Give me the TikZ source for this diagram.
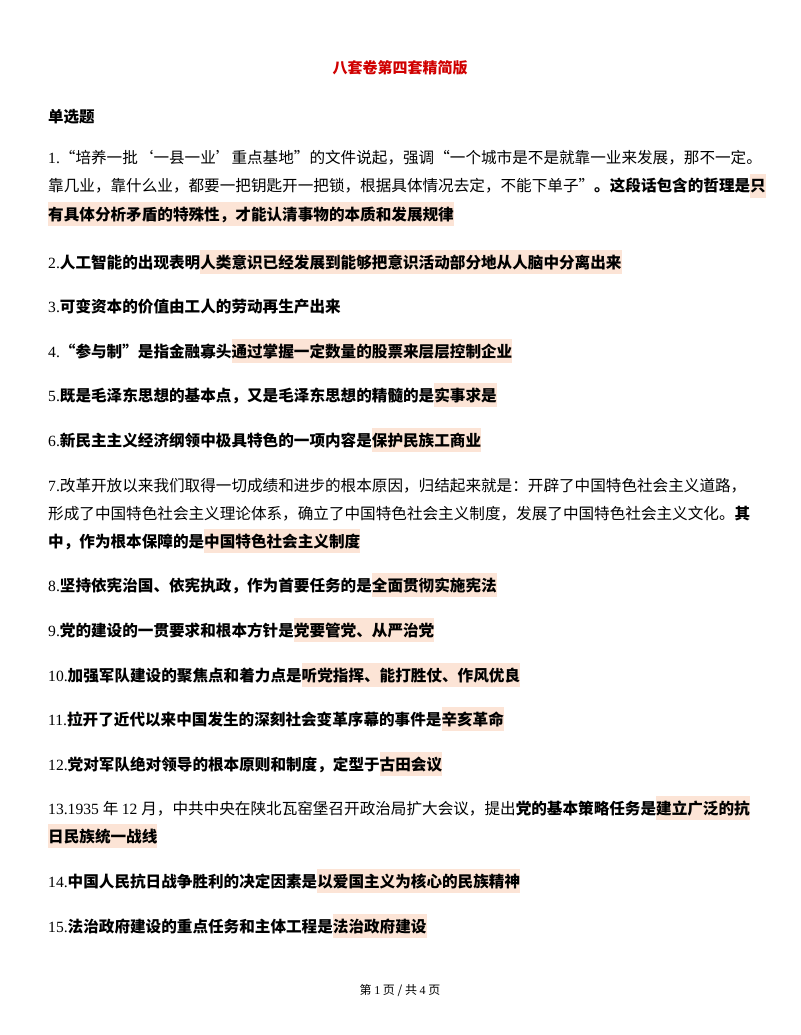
\documentclass[tikz,border=0pt]{standalone}
\usepackage{fontspec}
\setmainfont{Noto Sans CJK SC}
\newfontfamily\numf{Liberation Serif}
\definecolor{hl}{HTML}{FCE4D6}
\definecolor{titlered}{HTML}{D00000}
\newcommand{\hlt}[1]{{\setlength{\fboxsep}{0pt}\colorbox{hl}{\rule[-6pt]{0pt}{24pt}#1}}}
\newcommand{\nm}[1]{{\numf\mdseries #1}}
\begin{document}
\begin{tikzpicture}[x=1pt,y=-1pt,
  ln/.style={anchor=base west,inner sep=0pt,font=\fontsize{15.6}{18}\selectfont}]
\useasboundingbox[fill=white] (0,0) rectangle (800,1035);
\node[anchor=base,inner sep=0pt,font=\fontsize{15}{18}\selectfont\bfseries,text=titlered] (title) at (400,74) {八套卷第四套精简版};
\node[ln,font=\fontsize{15.5}{18}\selectfont\bfseries] (sec) at (48,123) {单选题};
\node[ln] (l1a) at (48,164) {\nm{1.}“培养一批‘一县一业’重点基地”的文件说起，强调“一个城市是不是就靠一业来发展，那不一定。};
\node[ln] (l1b) at (48,192) {靠几业，靠什么业，都要一把钥匙开一把锁，根据具体情况去定，不能下单子”\textbf{。这段话包含的哲理是}\hlt{\textbf{只}}};
\node[ln] (l1c) at (48,220) {\hlt{\textbf{有具体分析矛盾的特殊性，才能认清事物的本质和发展规律}}};
\node[ln] (l2) at (48,268) {\nm{2.}\textbf{人工智能的出现表明}\hlt{\textbf{人类意识已经发展到能够把意识活动部分地从人脑中分离出来}}};
\node[ln] (l3) at (48,312) {\nm{3.}\textbf{可变资本的价值由工人的劳动再生产出来}};
\node[ln] (l4) at (48,357) {\nm{4.}\textbf{“参与制”是指金融寡头}\hlt{\textbf{通过掌握一定数量的股票来层层控制企业}}};
\node[ln] (l5) at (48,401) {\nm{5.}\textbf{既是毛泽东思想的基本点，又是毛泽东思想的精髓的是}\hlt{\textbf{实事求是}}};
\node[ln] (l6) at (48,446) {\nm{6.}\textbf{新民主主义经济纲领中极具特色的一项内容是}\hlt{\textbf{保护民族工商业}}};
\node[ln] (l7a) at (48,491) {\nm{7.}改革开放以来我们取得一切成绩和进步的根本原因，归结起来就是：开辟了中国特色社会主义道路，};
\node[ln] (l7b) at (48,519) {形成了中国特色社会主义理论体系，确立了中国特色社会主义制度，发展了中国特色社会主义文化。\textbf{其}};
\node[ln] (l7c) at (48,547) {\textbf{中，作为根本保障的是}\hlt{\textbf{中国特色社会主义制度}}};
\node[ln] (l8) at (48,591) {\nm{8.}\textbf{坚持依宪治国、依宪执政，作为首要任务的是}\hlt{\textbf{全面贯彻实施宪法}}};
\node[ln] (l9) at (48,636) {\nm{9.}\textbf{党的建设的一贯要求和根本方针是}\hlt{\textbf{党要管党、从严治党}}};
\node[ln] (l10) at (48,681) {\nm{10.}\textbf{加强军队建设的聚焦点和着力点是}\hlt{\textbf{听党指挥、能打胜仗、作风优良}}};
\node[ln] (l11) at (48,725) {\nm{11.}\textbf{拉开了近代以来中国发生的深刻社会变革序幕的事件是}\hlt{\textbf{辛亥革命}}};
\node[ln] (l12) at (48,770) {\nm{12.}\textbf{党对军队绝对领导的根本原则和制度，定型于}\hlt{\textbf{古田会议}}};
\node[ln] (l13a) at (48,814) {\nm{13.1935 }年 \nm{12 }月，中共中央在陕北瓦窑堡召开政治局扩大会议，提出\textbf{党的基本策略任务是}\hlt{\textbf{建立广泛的抗}}};
\node[ln] (l13b) at (48,842) {\hlt{\textbf{日民族统一战线}}};
\node[ln] (l14) at (48,887) {\nm{14.}\textbf{中国人民抗日战争胜利的决定因素是}\hlt{\textbf{以爱国主义为核心的民族精神}}};
\node[ln] (l15) at (48,932) {\nm{15.}\textbf{法治政府建设的重点任务和主体工程是}\hlt{\textbf{法治政府建设}}};
\node[anchor=base,inner sep=0pt,font=\fontsize{12}{14}\selectfont] (foot) at (400,994) {第 \nm{1} 页 / 共 \nm{4} 页};
\end{tikzpicture}
\end{document}
